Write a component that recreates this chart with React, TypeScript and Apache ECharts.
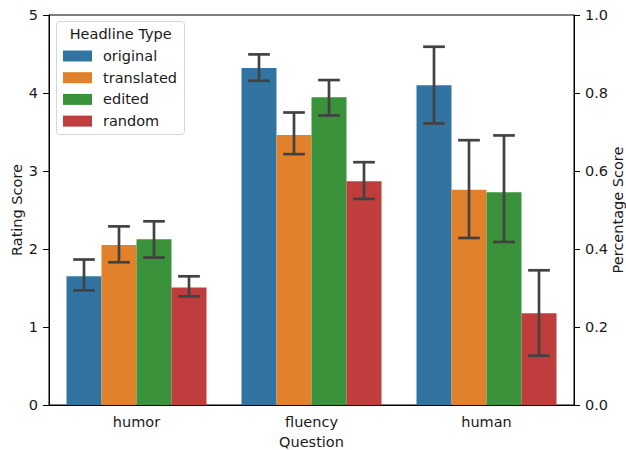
import React, { useEffect, useRef } from "react";
import * as echarts from "echarts";

const categories = ["humor", "fluency", "human"];
const seriesNames = ["original", "translated", "edited", "random"];
const colors = ["#3274a1", "#e1812c", "#3a923a", "#c03d3e"];
const means = [
  [1.65, 4.32, 4.1],
  [2.05, 3.46, 2.76],
  [2.125, 3.947, 2.728],
  [1.508, 2.869, 1.175],
];
const lows = [
  [1.47, 4.157, 3.61],
  [1.83, 3.216, 2.141],
  [1.89, 3.712, 2.09],
  [1.393, 2.642, 0.632],
];
const highs = [
  [1.865, 4.495, 4.593],
  [2.29, 3.75, 3.395],
  [2.355, 4.166, 3.456],
  [1.65, 3.113, 1.727],
];
const leftTicks = [0, 1, 2, 3, 4, 5];
const rightTicks = [0, 0.2, 0.4, 0.6, 0.8, 1.0];

const FONT = "DejaVu Sans";
const FS = 14.5;

export default function App() {
  const ref = useRef<HTMLDivElement>(null);
  useEffect(() => {
    if (!ref.current) return;
    const chart = echarts.init(ref.current, null, { renderer: "svg" });
    const nS = seriesNames.length;
    const barSeries = seriesNames.map((name, si) => ({
      name,
      type: "bar",
      yAxisIndex: 0,
      data: means[si],
      itemStyle: { color: colors[si] },
      barGap: "0%",
      barCategoryGap: "20%",
      emphasis: { disabled: true },
    }));
    const errSeries = seriesNames.map((name, si) => ({
      name: name + "_err",
      type: "custom",
      yAxisIndex: 0,
      z: 10,
      data: categories.map((_, ci) => [ci, lows[si][ci], highs[si][ci]]),
      renderItem: (params: any, api: any) => {
        const ci = api.value(0);
        const lo = api.coord([ci, api.value(1)]);
        const hi = api.coord([ci, api.value(2)]);
        const catW = api.size([1, 0])[0];
        const bw = (catW * 0.8) / nS;
        const x = lo[0] + (si - (nS - 1) / 2) * bw;
        const cap = bw * 0.31;
        const style = { stroke: "#424242", lineWidth: 2.7, fill: null };
        return {
          type: "group",
          children: [
            { type: "line", shape: { x1: x, y1: lo[1], x2: x, y2: hi[1] }, style },
            { type: "line", shape: { x1: x - cap, y1: lo[1], x2: x + cap, y2: lo[1] }, style },
            { type: "line", shape: { x1: x - cap, y1: hi[1], x2: x + cap, y2: hi[1] }, style },
          ],
        };
      },
    }));
    const labelStyle = { fontFamily: FONT, fontSize: FS, color: "#1a1a1a" };
    chart.setOption({
      animation: false,
      textStyle: { fontFamily: FONT },
      grid: {
        left: 49,
        right: 52,
        top: 15,
        bottom: 45,
        show: true,
        borderColor: "#000",
        borderWidth: 1,
        backgroundColor: "transparent",
        outerBoundsMode: "none",
        containLabel: false,
      },
      legend: {
        data: seriesNames,
        orient: "vertical",
        left: 63,
        top: 48,
        z: 8,
        itemWidth: 29,
        itemHeight: 11,
        itemGap: 5.7,
        icon: "rect",
        padding: 0,
        textStyle: { ...labelStyle, lineHeight: 16, padding: [0, 0, 0, 6] },
      },
      graphic: [
        {
          type: "rect",
          shape: { x: 56.5, y: 21.5, width: 128, height: 113, r: 3 },
          style: { fill: "rgba(255,255,255,0.8)", stroke: "#d6d6d6", lineWidth: 1 },
          z: 3,
        },
        {
          type: "text",
          x: 120.7,
          y: 34.3,
          z: 9,
          style: {
            text: "Headline Type",
            font: `${FS}px ${FONT}`,
            fill: "#1a1a1a",
            align: "center",
            verticalAlign: "middle",
          },
        },
      ],
      xAxis: {
        type: "category",
        data: categories,
        name: "Question",
        nameLocation: "middle",
        nameGap: 29,
        nameMoveOverlap: false,
        nameTextStyle: labelStyle,
        axisLine: { lineStyle: { color: "#000" } },
        axisTick: { alignWithLabel: true, length: 6, lineStyle: { color: "#000" } },
        axisLabel: { ...labelStyle, margin: 9 },
      },
      yAxis: [
        {
          type: "value",
          min: leftTicks[0],
          max: leftTicks[leftTicks.length - 1],
          interval: 1,
          name: "Rating Score",
          nameLocation: "middle",
          nameGap: 25,
          nameRotate: 90,
          nameMoveOverlap: false,
          nameTextStyle: labelStyle,
          axisLine: { show: true, lineStyle: { color: "#000" } },
          axisTick: { show: true, length: 6, lineStyle: { color: "#000" } },
          axisLabel: { ...labelStyle, margin: 11 },
          splitLine: { show: false },
        },
        {
          type: "value",
          position: "right",
          min: rightTicks[0],
          max: rightTicks[rightTicks.length - 1],
          interval: 0.2,
          name: "Percentage Score",
          nameLocation: "middle",
          nameGap: 36,
          nameRotate: 90,
          nameMoveOverlap: false,
          nameTextStyle: labelStyle,
          axisLine: { show: true, lineStyle: { color: "#000" } },
          axisTick: { show: true, length: 6, lineStyle: { color: "#000" } },
          axisLabel: {
            ...labelStyle,
            margin: 11,
            formatter: (v: number) => v.toFixed(1),
          },
          splitLine: { show: false },
        },
      ],
      series: [...barSeries, ...errSeries],
    });
    return () => chart.dispose();
  }, []);
  return <div ref={ref} style={{ width: 626, height: 450, position: "absolute", left: 0, top: 0 }} />;
}
